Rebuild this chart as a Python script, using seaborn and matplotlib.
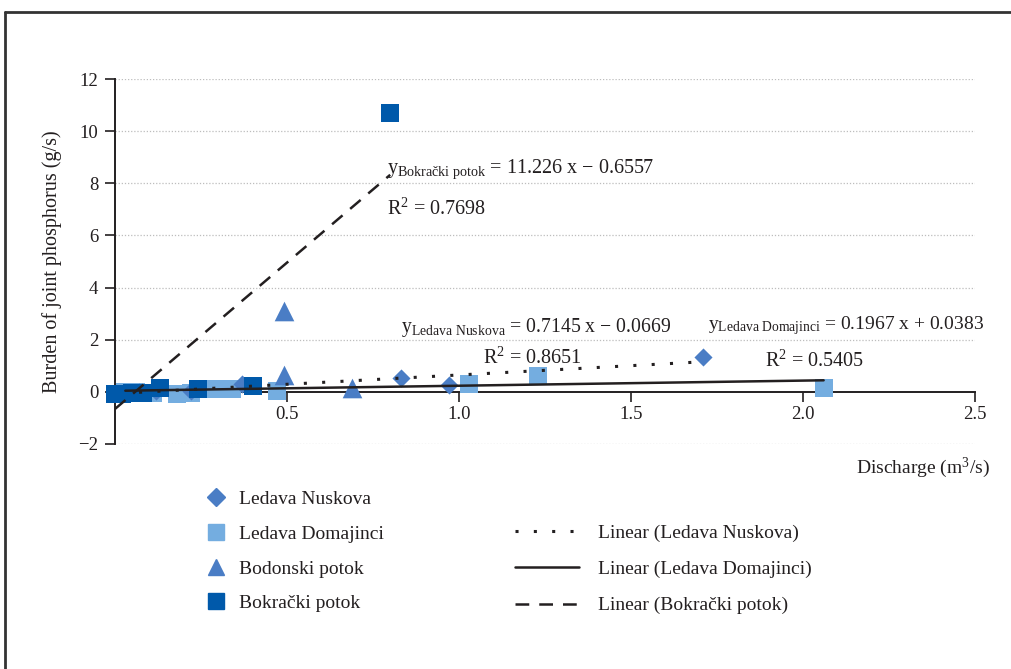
import matplotlib
matplotlib.use("Agg")
import matplotlib.pyplot as plt
import seaborn as sns
import numpy as np
import pandas as pd
from matplotlib.lines import Line2D

# ---------------- data ----------------
nuskova_x = [0.07, 0.12, 0.22, 0.37, 0.83, 0.97, 1.71]
nuskova_y = [0.0, 0.05, 0.05, 0.3, 0.55, 0.25, 1.35]

domajinci_x = [0.03, 0.06, 0.11, 0.18, 0.22, 0.29, 0.34, 0.47, 1.03, 1.23, 2.06]
domajinci_y = [0.0, 0.0, -0.05, -0.08, -0.05, 0.1, 0.1, 0.05, 0.3, 0.6, 0.15]

bodonski_x = [0.49, 0.49, 0.69]
bodonski_y = [3.1, 0.65, 0.15]

bokracki_x = [0.0, 0.02, 0.05, 0.08, 0.13, 0.24, 0.40, 0.80]
bokracki_y = [-0.08, -0.08, -0.05, -0.05, 0.15, 0.1, 0.22, 10.7]

# trendline coefficients (slope, intercept, R2)
fit_nuskova = (0.7145, -0.0669, 0.8651)
fit_domajinci = (0.1967, 0.0383, 0.5405)
fit_bokracki = (11.226, -0.6557, 0.7698)

series_names = ["Ledava Nuskova", "Ledava Domajinci", "Bodonski potok", "Bokrački potok"]
y_ticks = [-2, 0, 2, 4, 6, 8, 10, 12]
x_ticks = [0.5, 1.0, 1.5, 2.0, 2.5]

# ---------------- style ----------------
sns.set_style("white")
plt.rcParams["font.family"] = ["Liberation Serif", "DejaVu Serif"]
plt.rcParams["mathtext.fontset"] = "custom"
plt.rcParams["mathtext.rm"] = "Liberation Serif"
plt.rcParams["mathtext.it"] = "Liberation Serif:italic"
plt.rcParams["axes.unicode_minus"] = True

c_mid = "#4A7DC5"
c_light = "#74ADE0"
c_dark = "#0059AA"
c_text = "#231F20"

fig = plt.figure(figsize=(10.12, 6.69), dpi=100)
W, H = 1012, 669
ax = fig.add_axes([115 / W, 1 - 444 / H, (975 - 115) / W, (444 - 79) / H])

# points
kw = dict(linewidth=0, ax=ax, clip_on=False)
sns.scatterplot(x=domajinci_x, y=domajinci_y, marker="s", color=c_light, s=165, zorder=3, **kw)
sns.scatterplot(x=nuskova_x, y=nuskova_y, marker="D", color=c_mid, s=85, zorder=3, **kw)
sns.scatterplot(x=bodonski_x, y=bodonski_y, marker="^", color=c_mid, s=200, zorder=3, **kw)
sns.scatterplot(x=bokracki_x, y=bokracki_y, marker="s", color=c_dark, s=170, zorder=4, **kw)

# trend lines
def trend(xs, fit):
    xx = np.array([min(xs), max(xs)])
    return xx, fit[0] * xx + fit[1]

dot_style = (0, (1.0, 5.0))
dash_style = (0, (5.5, 4.0))
xx, yy = trend(nuskova_x, fit_nuskova)
sns.lineplot(x=xx, y=yy, color=c_text, lw=2.2, linestyle=dot_style,
             dash_capstyle="butt", ax=ax, zorder=5)
xx, yy = trend(domajinci_x, fit_domajinci)
sns.lineplot(x=xx, y=yy, color=c_text, lw=1.8, linestyle="-", ax=ax, zorder=5)
xx, yy = trend(bokracki_x, fit_bokracki)
sns.lineplot(x=xx, y=yy, color=c_text, lw=1.8, linestyle=dash_style, ax=ax, zorder=5)

# axes
ax.set_xlim(0, 2.5)
ax.set_ylim(-2, 12)
ax.set_yticks(y_ticks)
ax.set_yticklabels([f"\u2212{abs(v)}" if v < 0 else str(v) for v in y_ticks])
ax.set_xticks(x_ticks)
ax.set_xticklabels([f"{v:.1f}" for v in x_ticks])
for s in ["top", "right"]:
    ax.spines[s].set_visible(False)
ax.spines["bottom"].set_position(("data", 0))
for s in ["left", "bottom"]:
    ax.spines[s].set_color(c_text)
    ax.spines[s].set_linewidth(1.4)
ax.tick_params(axis="both", direction="out", length=7, width=1.2, color=c_text,
               labelsize=13.5, labelcolor=c_text, bottom=True, left=True)
ax.tick_params(axis="x", pad=3)
ax.tick_params(axis="y", pad=5)
for v in y_ticks:
    if v != 0:
        ax.axhline(v, color="#BDBDBD", lw=0.9, linestyle=(0, (1, 1.5)), zorder=1)

ax.set_ylabel("Burden of joint phosphorus (g/s)", fontsize=14.5, color=c_text, labelpad=12)
fig.text(990 / W, 1 - 468 / H, "Discharge (m$^3$/s)", fontsize=14, color=c_text,
         ha="right", va="center")

# equations
def eq(x, y, name, fit, sign, fs=14.5):
    ax.text(x, y, r"y$_{\mathrm{" + name.replace(" ", r"\ ") + r"}}$" +
            f" = {fit[0]} x {sign} {abs(fit[1]):.4f}",
            fontsize=fs, color=c_text, ha="left", va="center", zorder=6)

eq(0.79, 8.55, "Bokrački potok", fit_bokracki, "\u2212")
ax.text(0.79, 7.0, "R$^2$ = 0.7698", fontsize=14.5, color=c_text, va="center")
eq(0.83, 2.45, "Ledava Nuskova", fit_nuskova, "\u2212", fs=14.2)
ax.text(1.07, 1.3, "R$^2$ = 0.8651", fontsize=14.5, color=c_text, va="center")
eq(1.725, 2.55, "Ledava Domajinci", fit_domajinci, "+", fs=14.0)
ax.text(1.89, 1.18, "R$^2$ = 0.5405", fontsize=14.5, color=c_text, va="center")

# legends
h_left = [
    Line2D([], [], marker="D", color=c_mid, linestyle="none", markersize=9),
    Line2D([], [], marker="s", color=c_light, linestyle="none", markersize=12),
    Line2D([], [], marker="^", color=c_mid, linestyle="none", markersize=11),
    Line2D([], [], marker="s", color=c_dark, linestyle="none", markersize=12),
]
leg1 = fig.legend(h_left, series_names, loc="upper left",
                  bbox_to_anchor=(187 / W, 1 - 473 / H), frameon=False,
                  fontsize=14, labelspacing=0.88, handlelength=1.2,
                  handletextpad=0.6, labelcolor=c_text)
h_right = [
    Line2D([], [], color=c_text, lw=2.2, linestyle=dot_style, dash_capstyle="butt"),
    Line2D([], [], color=c_text, lw=1.8, linestyle="-"),
    Line2D([], [], color=c_text, lw=1.8, linestyle=dash_style),
]
leg2 = fig.legend(h_right, ["Linear (Ledava Nuskova)", "Linear (Ledava Domajinci)",
                            "Linear (Bokrački potok)"], loc="upper left",
                  bbox_to_anchor=(497 / W, 1 - 507 / H), frameon=False,
                  fontsize=14, labelspacing=0.95, handlelength=3.3,
                  handletextpad=1.0, labelcolor=c_text)

# outer frame (top and left edges)
fig.add_artist(Line2D([5 / W, 1.0], [1 - 12 / H, 1 - 12 / H], color="#333333", lw=2,
                      transform=fig.transFigure))
fig.add_artist(Line2D([5 / W, 5 / W], [1 - 12 / H, 0.0], color="#333333", lw=2,
                      transform=fig.transFigure))

fig.savefig("out.png", dpi=100)
